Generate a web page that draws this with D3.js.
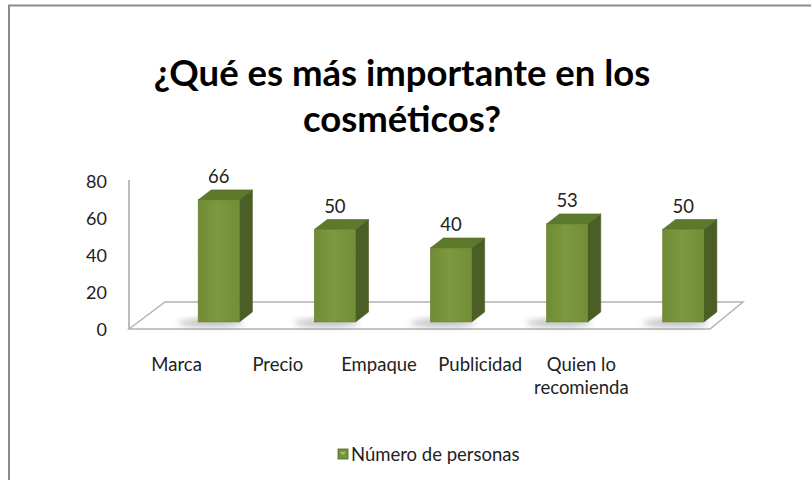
<!DOCTYPE html>
<html>
<head>
<meta charset="utf-8">
<script src="https://cdn.jsdelivr.net/npm/d3@7"></script>
<style>
  html, body { margin: 0; padding: 0; background: #fff; }
  svg { display: block; }
  text { font-family: Lato, "Open Sans", sans-serif; fill: #222; }
</style>
</head>
<body>
<svg id="chart" width="811" height="480"></svg>
<script>
const titleLines = ["¿Qué es más importante en los", "cosméticos?"];
const categories = ["Marca", "Precio", "Empaque", "Publicidad", "Quien lo recomienda"];
const categoryLines = [["Marca"], ["Precio"], ["Empaque"], ["Publicidad"], ["Quien lo", "recomienda"]];
const values = [66, 50, 40, 53, 50];
const yTicks = [0, 20, 40, 60, 80];
const seriesName = "Número de personas";

const svg = d3.select("#chart");
const W = 811, H = 480;

// frame
svg.append("rect").attr("x", 0).attr("y", 0).attr("width", W).attr("height", H).attr("fill", "#fff");
svg.append("path").attr("d", `M9,${H} L9,5.5 L${W},5.5`).attr("fill", "none")
  .attr("stroke", "#8c8c8c").attr("stroke-width", 2);

// defs
const defs = svg.append("defs");
const g1 = defs.append("linearGradient").attr("id", "front").attr("x1", 0).attr("x2", 1).attr("y1", 0).attr("y2", 0);
g1.append("stop").attr("offset", "0%").attr("stop-color", "#6f8c36");
g1.append("stop").attr("offset", "45%").attr("stop-color", "#7c993f");
g1.append("stop").attr("offset", "100%").attr("stop-color", "#728f38");
const blur = defs.append("filter").attr("id", "blur").attr("x", "-50%").attr("y", "-50%").attr("width", "200%").attr("height", "200%");
blur.append("feGaussianBlur").attr("stdDeviation", 3);

// title
svg.append("g").selectAll("text").data(titleLines).join("text")
  .attr("x", 402).attr("y", (d, i) => 86 + i * 46)
  .attr("text-anchor", "middle")
  .attr("font-size", 36.5).attr("font-weight", "bold")
  .style("fill", "#000")
  .text(d => d);

// scales
const y = d3.scaleLinear().domain([0, 80]).range([329, 181]);
const x = d3.scaleBand().domain(categories).range([161, 741]).paddingInner(0.645).paddingOuter(0.32);
const xLab = d3.scaleBand().domain(categories).range([126, 632]);
const depthX = 13, depthY = -10, zOff = -7;

// y axis
const yAxis = d3.axisLeft(y).tickValues(yTicks).tickSize(0).tickPadding(0);
const yg = svg.append("g").attr("transform", "translate(107,0)").call(yAxis);
yg.select(".domain").remove();
yg.selectAll("text").attr("font-size", 18).attr("font-family", "Lato, sans-serif").style("fill", "#222").attr("dy", "0.36em").attr("x", 0);
svg.append("line").attr("x1", 129).attr("x2", 129).attr("y1", y(80) - 1).attr("y2", y(0))
  .attr("stroke", "#a6a6a6").attr("stroke-width", 1.5);

// floor
const fl = 129, fr = 710, bl = 165, br = 743, fy = y(0), by = y(0) - 27;
svg.append("path").attr("d", `M${fl},${fy} L${bl},${by} L${br},${by} L${fr},${fy} Z`)
  .attr("fill", "#fff").attr("stroke", "#b3b3b3").attr("stroke-width", 1.5);

// shadows
svg.append("g").selectAll("ellipse").data(values).join("ellipse")
  .attr("cx", (d, i) => x(categories[i]) + x.bandwidth() / 2 - 8)
  .attr("cy", y(0) + zOff + 1)
  .attr("rx", x.bandwidth() / 2 + 12).attr("ry", 4)
  .attr("fill", "#7f7f7f").attr("opacity", 0.5).attr("filter", "url(#blur)");

// bars
const bars = svg.append("g").selectAll("g").data(values).join("g");
bars.each(function (d, i) {
  const g = d3.select(this);
  const x0 = x(categories[i]), w = x.bandwidth();
  const yb = y(0) + zOff, yt = y(d) + zOff;
  g.append("path").attr("d",
    `M${x0 + w},${yt} L${x0 + w + depthX},${yt + depthY} L${x0 + w + depthX},${yb + depthY} L${x0 + w},${yb} Z`)
    .attr("fill", "#4a5e25").attr("stroke", "#445722").attr("stroke-width", 0.6);
  g.append("path").attr("d",
    `M${x0},${yt} L${x0 + depthX},${yt + depthY} L${x0 + w + depthX},${yt + depthY} L${x0 + w},${yt} Z`)
    .attr("fill", "#5d7a2c").attr("stroke", "#4f6a25").attr("stroke-width", 0.6);
  g.append("rect").attr("x", x0).attr("y", yt).attr("width", w).attr("height", yb - yt)
    .attr("fill", "url(#front)").attr("stroke", "#64802f").attr("stroke-width", 0.6);
  g.append("text").attr("x", x0 + w / 2).attr("y", yt + depthY - 7)
    .attr("text-anchor", "middle").attr("font-size", 18.5).text(d);
});

// category labels
const cg = svg.append("g").selectAll("text").data(categoryLines).join("text")
  .attr("text-anchor", "middle").attr("font-size", 18.5)
  .attr("x", (d, i) => xLab(categories[i]) + xLab.bandwidth() / 2)
  .attr("y", 371);
cg.selectAll("tspan").data(d => d).join("tspan")
  .attr("x", function () { return d3.select(this.parentNode).attr("x"); })
  .attr("dy", (d, j) => j === 0 ? 0 : 23)
  .text(d => d);

// legend
const lg = svg.append("g").attr("transform", "translate(338,449)");
lg.append("rect").attr("x", 0).attr("y", 0).attr("width", 10).attr("height", 10)
  .attr("fill", "#77933c").attr("stroke", "#4f6228").attr("stroke-width", 0.8);
lg.append("path").attr("d", "M2,3 L8,3 L5,6 Z").attr("fill", "#a6c06a");
lg.append("text").attr("x", 13).attr("y", 5).attr("dy", "0.36em").attr("font-size", 18.5).text(seriesName);
</script>
</body>
</html>
